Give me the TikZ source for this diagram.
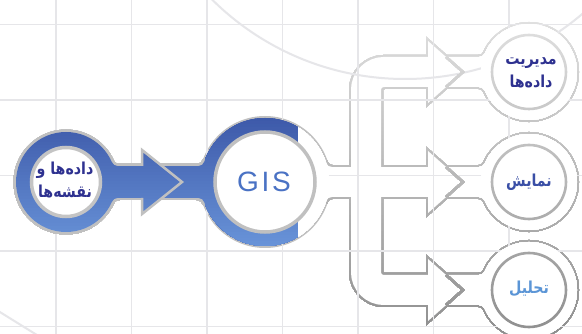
\documentclass[tikz,border=0pt]{standalone}
\usepackage{fontspec}
\setmainfont{Liberation Sans}
\newfontfamily\fa[Script=Arabic, FakeStretch=0.86]{DejaVu Sans}
\newfontfamily\gisfont[LetterSpace=10]{Liberation Sans}
\TeXXeTstate=1

\definecolor{gridc}{HTML}{E6E6E9}
\definecolor{gtop}{HTML}{E0E0E0}
\definecolor{gbot}{HTML}{8F8F8F}
\definecolor{btop}{HTML}{3D59A9}
\definecolor{bbot}{HTML}{6893D8}
\definecolor{rimc}{HTML}{C0C0C0}
\definecolor{innerc}{HTML}{C4C4C4}
\definecolor{navy}{HTML}{2E3190}
\definecolor{midblue}{HTML}{3A4FA6}
\definecolor{lightblue}{HTML}{5B95D6}
\definecolor{gisblue}{HTML}{4A72C4}

% fillet between a circle (#1,#2, radius #3) and a pipe of half width #4
% #5: side of the pipe (+1 right, -1 left), #6: edge (-1 upper, +1 lower), #7: path options
\def\rf{6}
\newcommand\fillet[7]{%
  \pgfmathsetmacro\fdx{(#5)*sqrt(((#3)+\rf)^2-((#4)+\rf)^2)}%
  \pgfmathsetmacro\fx{(#1)+\fdx}%
  \pgfmathsetmacro\fy{(#2)+(#6)*((#4)+\rf)}%
  \pgfmathsetmacro\fly{(#2)+(#6)*(#4)}%
  \pgfmathsetmacro\fa{-(#6)*90}%
  \pgfmathsetmacro\fb{atan2((#2)-\fy,(#1)-\fx)}%
  \path[#7] (\fx,\fly) arc[start angle=\fa, end angle=\fb, radius=\rf] -- (#1,#2) -- (#1,\fly) -- cycle;%
}

% grey branching pipe: outline first, then the white body
\newcommand\grayunion{%
  \draw[pg, line width=34, rounded corners=18] (529,72) -- (366,72) -- (366,290) -- (529,290);
  \draw[pg, line width=34] (298,182) -- (529,182);
  \foreach \cy in {72,182,290}{%
    \draw[pg, line width=4, line join=miter] (428,\cy-31) -- (463,\cy) -- (428,\cy+31) -- cycle;
    \draw[pg, line width=4] (529,\cy) circle[radius=48];
    \fillet{529}{\cy}{48}{15}{-1}{-1}{draw=pg, line width=4}
    \fillet{529}{\cy}{48}{15}{-1}{1}{draw=pg, line width=4}
  }
  \fillet{265}{182}{64}{15}{1}{-1}{draw=pg, line width=4}
  \fillet{265}{182}{64}{15}{1}{1}{draw=pg, line width=4}
  \draw[white, line width=30, rounded corners=18] (529,72) -- (366,72) -- (366,290) -- (529,290);
  \draw[white, line width=30] (298,182) -- (529,182);
  \foreach \cy in {72,182,290}{%
    \fill[white] (428,\cy-31) -- (463,\cy) -- (428,\cy+31) -- cycle;
    \fill[white] (529,\cy) circle[radius=48];
    \fillet{529}{\cy}{48}{15}{-1}{-1}{fill=white}
    \fillet{529}{\cy}{48}{15}{-1}{1}{fill=white}
  }
  \fillet{265}{182}{64}{15}{1}{-1}{fill=white}
  \fillet{265}{182}{64}{15}{1}{1}{fill=white}
}

% arrow tips inside the pipe and the three end circles
\newcommand\grayfront{%
  \foreach \cy in {72,182,290}{%
    \draw[pg, line width=2.2, line join=miter] (446.1,\cy-15) -- (463,\cy) -- (446.1,\cy+15);
    \fill[white] (529,\cy) circle[radius=48];
    \fillet{529}{\cy}{48}{15}{-1}{-1}{fill=white}
    \fillet{529}{\cy}{48}{15}{-1}{1}{fill=white}
    \draw[pg, line width=2.6, fill=white] (529,\cy) circle[radius=37];
  }
}

% blue input ring, shaft and GIS ring
\newcommand\blueunion{%
  \draw[rimc, line width=5] (66,166) rectangle (265,198);
  \draw[rimc, line width=5] (66,182) circle[radius=50];
  \fillet{66}{182}{50}{16}{1}{-1}{draw=rimc, line width=5}
  \fillet{66}{182}{50}{16}{1}{1}{draw=rimc, line width=5}
  \fillet{265}{182}{64}{16}{-1}{-1}{draw=rimc, line width=5}
  \fillet{265}{182}{64}{16}{-1}{1}{draw=rimc, line width=5}
  \fill[pb] (66,166) rectangle (265,198);
  \fill[pb] (66,182) circle[radius=50];
  \fillet{66}{182}{50}{16}{1}{-1}{fill=pb}
  \fillet{66}{182}{50}{16}{1}{1}{fill=pb}
  \fillet{265}{182}{64}{16}{-1}{-1}{fill=pb}
  \fillet{265}{182}{64}{16}{-1}{1}{fill=pb}
  \begin{scope}
    \clip (0,0) rectangle (298,345);
    \fill[pb] (265,182) circle[radius=64];
  \end{scope}
  \begin{scope}
    \clip (298,0) rectangle (600,345);
    \fill[white] (265,182) circle[radius=64];
  \end{scope}
  \fill[pb] (142,150) -- (182,182) -- (142,214) -- cycle;
}

\tikzset{
  label fa/.style={font=\fa\bfseries\fontsize{16.5}{23}\selectfont, align=center}
}

\begin{document}
\begin{tikzpicture}[x=1pt,y=-1pt]
\useasboundingbox (0,0) rectangle (582,334);
\clip (0,0) rectangle (582,334);
\fill[white] (0,0) rectangle (582,334);

% outer rim of the GIS ring
\draw[rimc, line width=4] (265,182) circle[radius=64];

% grey pipe body, shaded from light (top) to dark (bottom)
\foreach \yb in {0,4,...,332}{%
  \pgfmathtruncatemacro\pp{max(0,min(100,(\yb+2-20)/3.14))}
  \colorlet{pg}{gbot!\pp!gtop}
  \begin{scope}
    \clip (-10,\yb) rectangle (600,345);
    \grayunion
  \end{scope}
}

% background grid and arcs
\foreach \gx in {56,131.5,207,282.5,358,433.5,509}
  \draw[gridc, line width=1.6] (\gx,0) -- (\gx,334);
\foreach \gy in {24.5,100,175.5,251,326.5}
  \draw[gridc, line width=1.6] (0,\gy) -- (582,\gy);
\draw[gridc, line width=2] (405,-195) circle[radius=274];
\draw[gridc, line width=2] (-5,309) -- (45,340);

\foreach \yb in {0,4,...,332}{%
  \pgfmathtruncatemacro\pp{max(0,min(100,(\yb+2-20)/3.14))}
  \colorlet{pg}{gbot!\pp!gtop}
  \begin{scope}
    \clip (-10,\yb) rectangle (600,345);
    \grayfront
  \end{scope}
}

% blue part, shaded from dark (top) to light (bottom)
\foreach \yb in {110,113,...,251}{%
  \pgfmathtruncatemacro\pp{max(0,min(100,(\yb+1.5-118)/1.28))}
  \colorlet{pb}{bbot!\pp!btop}
  \begin{scope}
    \clip (-10,\yb) rectangle (600,345);
    \blueunion
  \end{scope}
}
\draw[rimc, line width=2.5, line join=miter] (142,166) -- (142,150) -- (182,182) -- (142,214) -- (142,198);

% inner discs
\draw[innerc, line width=3.5, fill=white] (66,182) circle[radius=34.5];
\draw[rimc, line width=3.5, fill=white] (265,182) circle[radius=50];

% labels
\node[text=navy, label fa] (input) at (65,180)
  {\beginR داده^^^^200cها و\endR\\\beginR نقشه^^^^200cها\endR};
\node[text=gisblue, font=\gisfont\fontsize{28}{30}\selectfont] (gis) at (264,182) {GIS};
\node[text=navy, label fa] (manage) at (531,73)
  {\beginR مدیریت\endR\\\beginR داده^^^^200cها\endR};
\node[text=midblue, label fa] (show) at (529,182) {\beginR نمایش\endR};
\node[text=lightblue, label fa] (analyse) at (529,289) {\beginR تحلیل\endR};
\end{tikzpicture}
\end{document}
